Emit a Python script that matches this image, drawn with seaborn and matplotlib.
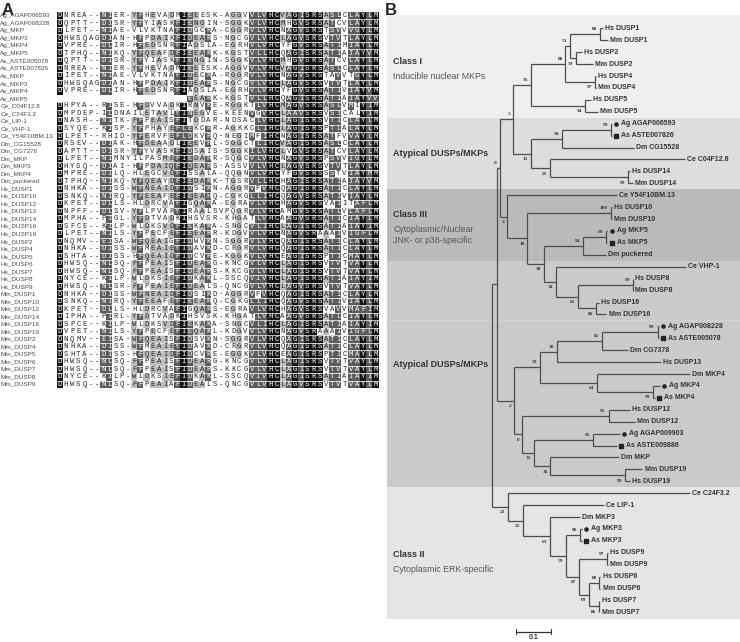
import numpy as np
import pandas as pd
import matplotlib
matplotlib.use("Agg")
import matplotlib.pyplot as plt
from matplotlib.colors import ListedColormap
import seaborn as sns

# ---------------- data: panel A (alignment) ----------------
names = ["Ag_AGAP006593", "Ag_AGAP008228", "Ag_MKP", "Ag_MKP3", "Ag_MKP4", "Ag_MKP5",
         "As_ASTE005078", "As_ASTE007826", "As_MKP", "As_MKP3", "As_MKP4", "As_MKP5",
         "Ce_C04F12.8", "Ce_C24F3.2", "Ce_LIP-1", "Ce_VHP-1", "Ce_Y54F10BM.13",
         "Dm_CG15528", "Dm_CG7378", "Dm_MKP", "Dm_MKP3", "Dm_MKP4", "Dm_puckered",
         "Hs_DUSP1", "Hs_DUSP10", "Hs_DUSP12", "Hs_DUSP13", "Hs_DUSP14", "Hs_DUSP16",
         "Hs_DUSP19", "Hs_DUSP2", "Hs_DUSP4", "Hs_DUSP5", "Hs_DUSP6", "Hs_DUSP7",
         "Hs_DUSP8", "Hs_DUSP9", "Mm_DUSP1", "Mm_DUSP10", "Mm_DUSP12", "Mm_DUSP14",
         "Mm_DUSP16", "Mm_DUSP19", "Mm_DUSP2", "Mm_DUSP4", "Mm_DUSP5", "Mm_DUSP6",
         "Mm_DUSP7", "Mm_DUSP8", "Mm_DUSP9"]

# N-terminal half (columns 1-21) and C-terminal half (columns 22-52)
seq_left = [
    "DNREA--NIER-YFHEVADMI", "DQPTT--DISR-YFYIASKFI", "DLPET--NIAE-VLVKTNAFI",
    "DHWSQAGDIAN-HFPDAIKFI", "DVPRE--DLIR-HFEDSNRFI", "DTPHQ--NIKQ-YFQEAFDFI",
    "DQPTT--DISR-YFYIASKFI", "DNREA--NIER-YFHEVADMI", "DIPET--NIAE-VLVKTNAFI",
    "DHWSQAGDIAN-HFPDAIKFI", "DVPRE--DLIR-HFEDSNRFI", "                     ",
    "DHPYA--RISE-HFDVVADKI", "DMPDEP-ILDNAILETAVLYI", "DNASH--NITK-FFPEAISFI",
    "DSYQE--KISP-YFPHAYEFL", "DLPET--RHID-YFERVFEFL", "DRSEV--DIAK-HFDEAADLI",
    "DAPTT--DISR-YFYVASKFI", "DLPET--NIMNYILPASMEFI", "DHYSQ--DIAI-HFPDAIQFI",
    "DMPRE--DILQ-HLEGCVDFI", "DTPHQ--NIKQ-YFQEAYDFI", "DNHKA--DISS-WFNEAIDFI",
    "DSNKQ--NIRQ-YFEEAFEFI", "DKPET--DLLS-HLDRCVAFI", "DNPFF--DLSV-YFLPVARYI",
    "DMPHA--PIGL-YFDTVADKI", "DSFCE--KILP-WLDKSVDFI", "DLPET--NILS-YFPECFEFI",
    "DNQMV--EISA-WFQEAIGFI", "DNHKA--DISS-WFMEAIEYI", "DSHTA--DISS-HFQEAIDFI",
    "DHWSQ--NLSQ-FFPEAISFI", "DHWSQ--NLSQ-FFPEAISFI", "DNYCE--KILP-WLDKSIEFI",
    "DHWSQ--NLSR-FFPEAIEFI", "DNHKA--DISS-WFNEAIDFI", "DSNKQ--NIRQ-YFEEAFEFI",
    "DKPET--DLLS-HLDRCVAFI", "DIPHA--PIRL-YFDTVADKI", "DSPCE--KILP-WLDKSVDFI",
    "DVPET--NILS-YFPECFEFI", "DNQMV--EISA-WFQEAISFI", "DNHKA--DISS-WFMEAIEYI",
    "DSHTA--DISS-HFQEAIDFI", "DHWSQ--NLSQ-FFPEAISFI", "DHWSQ--NLSQ-FFPEAISFI",
    "DNYCE--KILP-WLDKSIEFI", "DHWSQ--NLSQ-FFPEAIAFI"]

seq_right = [
    "EEESK-AGGVVLVHCVAGISRSASLCLAYLM", "ENGIN-SGGKVLVHCMHGVSRSATCVLAYLM",
    "DGCRA-CGGRVLVHCNAGVSRSTSVVVGYLM", "DEARS-NGCGVLVHCLAGVSRSVTVTLAYLM",
    "ADSLA-EGRHVLVHCYFGVSRSATIMIAYLM", "EEARK-KGSTVLLHCQAGISRSATIAIAYVM",
    "ENGIN-SGGKVLVHCMHGVSRSATCVLAYLM", "EEESK-AGGVVLVHCVAGISRSASLCLAYLM",
    "DECRA-RGGRVLVHCNAGVSRSTAVVTGYLM", "DEARS-NGCGVLVHCLAGVSRSVTVTLAYLM",
    "ADSLA-EGRHVLVHCYFGVSRSATIVIAYVM", "EEARK-KGSTVLLHCQAGISRSATIAIAYVV",
    "RNVKE-RGGKTLVHCMAGVSRSASLVMIYIM", "NEGVE-KEENVGVHCLAAVSRSVSICALYIM",
    "TDDAR-NDSACLVHCLAGISRSVTICLAYLM", "EKCRR-AGKKCLIHCLAGISRSPTLALAYLM",
    "DKVRQ-NEGIMFIHCNAGISRSATFVVAYLM", "EEVHL-SGGCTLIHCVAGISRSASLCLAYLM",
    "DSAIS-SGGKILVHCLVGVSRSATCVLAYLM", "EDAHR-SQGCVLVHCNAGVSRSPSVVIGYLM",
    "DEARS-ASSVVLVHCLAGVSRSVTVTLAYLM", "SSALA-QQGNVLVHCYFGVSRSSSTVIAYMM",
    "EDARK-TGSRVLLHCHAGISRSATIAIAYVM", "DSIKN-AGGRVFVHCQAGISRSATICLAYLM",
    "EEAHQ-CGKGLLIHCQAGVSRSATIVIAYLM", "GQARA-EGRAVLVHCHAGVSRSVAIITAFLM",
    "RAALSVPQGRVLVHCAMGVSRSATLVLAFLM", "HSVSR-KHGATLVHCAAGVSRSATICIAYLM",
    "EKAKA-SNGCVLIHCLAGISRSATIAIAYIM", "EEARR-KDGVVLVHCNAGVSRAAAIVIGFLM",
    "DWVKN-SGGRVLVHCQAGISRSATICLAYLM", "DAVKD-CRGRVLVHCQAGISRSATICLAYLM",
    "DCVRE-KGGKVLVHCEAGISRSPTICMAYLM", "DEARG-KNCGVLVHCLAGISRSVTVTVAYLM",
    "DEARS-KKCGVLVHCLAGISRSVTVTVAYLM", "DKAKL-SSCQVIVHCLAGISRSATIAIAYIM",
    "DEALS-QNCGVLVHCLAGVSRSVTVTVAYLM", "DSIKD-AGGRVFVHCQAGISRSATICLAYLM",
    "EEAHQ-CGKGLLIHCQAGVSRSATIVIAYLM", "GQARS-EGRAVLVHCHAGVSRSVAVVMAFIM",
    "HSVSK-KHGATLVHCAAGVSRSATLCIAYLM", "EKAKA-SNGCVLIHCLAGISRSATIAIAYIM",
    "EQAKL-KDGVVLVHCNAGVSRAAAIVIGFLM", "DSVKN-SGGRVLVHCQAGISRSATICLAYLM",
    "DAVKD-CRGRVLVHCQAGISRSATICLAYLM", "DCVRE-EGGKVLVHCEAGISRSPTICMAYLM",
    "DEARG-KNCGVLVHCLAGISRSVTVTVAYLM", "DEARS-KKCGVLVHCLAGISRSVTVTVAYLM",
    "DKAKL-SSCQVIVHCLAGISRSATIAIAYIM", "DEALS-QNCGVLVHCLAGVSRSVTVTVAYLM"]

# similarity groups used for the shading
groups = ["DENQ", "ILVM", "FYW", "ST", "KRH", "AG", "C", "P"]

# ---------------- data: panel B (tree, newick per clade) ----------------
clade_I = ("((((Hs_DUSP1:0.009,Mm_DUSP1:0.023)88:0.084,(Hs_DUSP2:0.015,Mm_DUSP2:0.047)59:0.017)53:0.014,"
           "(Hs_DUSP4:0.003,Mm_DUSP4:0.003)97:0.084)88:0.099,(Hs_DUSP5:0.017,Mm_DUSP5:0.037)94:0.154)35:0.051")
clade_atyp1 = ("(((Ag_AGAP006593:0.003,As_ASTE007826:0.003)99:0.141,Dm_CG15528:0.207)50:0.088,"
               "(Ce_C04F12.8:0.384,(Hs_DUSP14:0.005,Mm_DUSP14:0.013)99:0.222)25:0.056)15:0.051")
clade_III = ("(Ce_Y54F10BM.13:0.312,((Hs_DUSP10:0.003,Mm_DUSP10:0.003)100:0.238,"
             "(((Ag_MKP5:0.004,As_MKP5:0.004)99:0.065,Dm_puckered:0.065)94:0.113,"
             "(Ce_VHP-1:0.371,((Hs_DUSP8:0.002,Mm_DUSP8:0.002)99:0.157,"
             "(Hs_DUSP16:0.007,Mm_DUSP16:0.029)86:0.053)65:0.062)34:0.035)30:0.047)10:0.057)3:0.022")
clade_atyp2 = ("((((Ag_AGAP008228:0.004,As_ASTE005078:0.004)99:0.160,Dm_CG7378:0.075)81:0.126,"
               "Hs_DUSP13:0.297)30:0.051,(Dm_MKP4:0.265,(Ag_MKP4:0.019,As_MKP4:0.005)99:0.160)64:0.164)23:0.073")
clade_atyp3 = ("((Hs_DUSP12:0.061,Mm_DUSP12:0.075)95:0.246,((Ag_AGAP009903:0.076,As_ASTE009886:0.067)95:0.169,"
               "(Dm_MKP:0.196,(Mm_DUSP19:0.049,Hs_DUSP19:0.012)99:0.214)36:0.047)31:0.033)8:0.024")
clade_II = ("(Ce_C24F3.2:0.519,(Ce_LIP-1:0.229,(Dm_MKP3:0.086,((Ag_MKP3:0.006,As_MKP3:0.006)96:0.041,"
            "((Hs_DUSP9:0.004,Mm_DUSP9:0.004)97:0.078,((Hs_DUSP6:0.003,Mm_DUSP6:0.003)88:0.031,"
            "(Hs_DUSP7:0.002,Mm_DUSP7:0.002)86:0.029)69:0.026)67:0.039)59:0.045)63:0.076)22:0.043)22:0.047")

tree_str = ("(((" + "(" + clade_I + "," + clade_atyp1 + ")5:0.038," + clade_III + ")0:0.009,"
            "(" + clade_atyp2 + "," + clade_atyp3 + ")2:0.050):0.013," + clade_II + ");")

band_edges = [7.5, 13.5, 19.5, 38.5]   # boundaries between leaf rows
band_colors = ["#efefef", "#dddddd", "#bababa", "#cacaca", "#e5e5e5"]
class_labels = [("Class I", "Inducible nuclear MKPs", 2.74),
                ("Atypical DUSPs/MKPs", "", 10.54),
                ("Class III", "Cytoplasmic/Nuclear\nJNK- or p38-specific", 15.58),
                ("Atypical DUSPs/MKPs", "", 28.16),
                ("Class II", "Cytoplasmic ERK-specific", 44.1)]

# ---------------- figure ----------------
sns.set_theme(style="white")
plt.rcParams["font.family"] = ["Liberation Sans", "DejaVu Sans"]

fig = plt.figure(figsize=(7.4, 6.42), dpi=100)

# ---- panel A ----
seqs = [a + b for a, b in zip(seq_left, seq_right)]
arr = np.array([list(s) for s in seqs])
nrow, ncol = arr.shape


def grp(ch):
    for g in groups:
        if ch in g:
            return g
    return ch


level = np.zeros(arr.shape, dtype=int)
for j in range(ncol):
    col = arr[:, j]
    gcol = np.array([grp(c) for c in col])
    for i in range(nrow):
        ch = col[i]
        if ch in "- ":
            continue
        ident = np.mean(col == ch)
        gfrac = np.mean(gcol == grp(ch))
        if ident >= 0.9:
            level[i, j] = 3
        elif gfrac >= 0.7 or ident >= 0.7:
            level[i, j] = 2
        elif gfrac >= 0.45:
            level[i, j] = 1

annot = np.where(arr == " ", "", arr)
cmap = ListedColormap(["#ffffff", "#bdbdbd", "#5c5c5c", "#161616"])

axA = fig.add_axes([0.0766, 0.3955, 0.435, 0.586])
sns.heatmap(pd.DataFrame(level, index=names), annot=annot, fmt="", cmap=cmap,
            vmin=-0.5, vmax=3.5, cbar=False, xticklabels=False, yticklabels=names,
            annot_kws={"fontsize": 5.2, "family": "Liberation Mono"}, ax=axA)
axA.hlines(np.arange(1, nrow), 0, ncol, colors="white", lw=0.5)
axA.set_yticklabels(names, rotation=0, ha="left", fontsize=4.6, color="#4a4a4a")
axA.tick_params(axis="y", length=0, pad=40.5)
axA.set_ylabel("")
fig.text(0.002, 0.995, "A", fontsize=12, fontweight="bold", va="top", ha="left")

# ---- panel B ----


def parse_newick(s):
    pos = 0

    def node():
        nonlocal pos
        kids = []
        if s[pos] == "(":
            pos += 1
            while True:
                kids.append(node())
                if s[pos] == ",":
                    pos += 1
                    continue
                pos += 1  # ')'
                break
        st = pos
        while pos < len(s) and s[pos] not in ",():;":
            pos += 1
        label = s[st:pos]
        length = 0.0
        if pos < len(s) and s[pos] == ":":
            pos += 1
            st = pos
            while s[pos] not in ",();":
                pos += 1
            length = float(s[st:pos])
        return {"name": label, "len": length, "kids": kids}

    return node()


root = parse_newick(tree_str)
leaves = []


def layout(n, x0):
    n["x"] = x0 + n["len"]
    if not n["kids"]:
        n["y"] = len(leaves)
        leaves.append(n)
    else:
        for k in n["kids"]:
            layout(k, n["x"])
        n["y"] = (n["kids"][0]["y"] + n["kids"][-1]["y"]) / 2


layout(root, 0.0)

axB = fig.add_axes([387 / 740, 0, 353 / 740, 1 - 15 / 642])
axB.set_xlim(-0.3, 0.7086)
axB.set_ylim(51.48, -1.12)
axB.axis("off")

edges = [-1.12] + band_edges + [49.56]
for lo, hi, c in zip(edges[:-1], edges[1:], band_colors):
    axB.axhspan(lo, hi, color=c, lw=0, zorder=0)
axB.axhline(24.5, xmin=0, xmax=1, color="#d4d4d4", lw=0.6, zorder=0.5)

line_c = "#4d4d4d"


def draw(n):
    if not n["kids"]:
        return
    axB.vlines(n["x"], n["kids"][0]["y"], n["kids"][-1]["y"], colors=line_c, lw=0.9, zorder=2)
    for idx, k in enumerate(n["kids"]):
        axB.hlines(k["y"], n["x"], k["x"], colors=line_c, lw=0.9, zorder=2)
        if k["kids"] and k["name"]:
            dy = -0.42 if idx == 0 else 0.45
            axB.text(k["x"] - 0.008, k["y"] + dy, k["name"], ha="right", va="center",
                     fontsize=3.9, fontweight="bold", family="Liberation Serif",
                     color="#333333", zorder=3)
        draw(k)


draw(root)

for lf in leaves:
    lab = lf["name"].replace("_", " ")
    if lab.startswith("Ag ") or lab.startswith("As "):
        axB.plot(lf["x"] + 0.012, lf["y"], marker="o" if lab.startswith("Ag") else "s",
                 ms=2.3, color="#222222", zorder=3)
        tx = lf["x"] + 0.026
    else:
        tx = lf["x"] + 0.006
    axB.text(tx, lf["y"], lab, ha="left", va="center", fontsize=5.0,
             fontweight="bold", color="#333333", zorder=3)

tr = axB.get_yaxis_transform()
for head, sub, yy in class_labels:
    axB.text(0.017, yy, head, transform=tr, fontsize=6.5, fontweight="bold",
             color="#333333", va="center", ha="left")
    if sub:
        axB.text(0.017, yy + 0.95, sub, transform=tr, fontsize=6.3, color="#555555",
                 va="top", ha="left", linespacing=1.25)

# scale bar 0.1
sb_x0 = 0.0686
axB.plot([sb_x0, sb_x0 + 0.1], [50.62, 50.62], color="#333333", lw=0.9)
axB.plot([sb_x0, sb_x0], [50.42, 50.82], color="#333333", lw=0.8)
axB.plot([sb_x0 + 0.1, sb_x0 + 0.1], [50.42, 50.82], color="#333333", lw=0.8)
axB.text(sb_x0 + 0.05, 51.1, "0.1", ha="center", va="center", fontsize=5,
         fontweight="bold", color="#333333")

fig.text(385 / 740, 0.995, "B", fontsize=12, fontweight="bold", va="top", ha="left")

fig.savefig("out.png", dpi=100)
